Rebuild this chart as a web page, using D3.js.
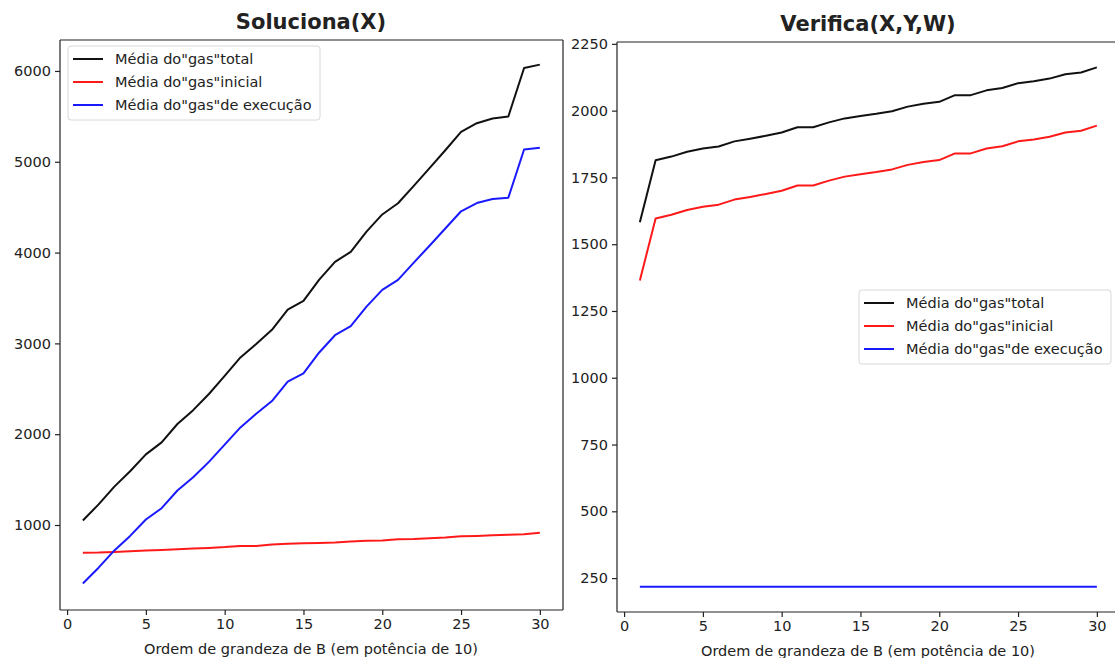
<!DOCTYPE html>
<html>
<head>
<meta charset="utf-8">
<script src="https://cdn.jsdelivr.net/npm/d3@7"></script>
<style>
  html, body { margin: 0; padding: 0; background: #fff; overflow: hidden; }
  svg { display: block; }
  text { font-family: "DejaVu Sans", sans-serif; fill: #222; }
</style>
</head>
<body>
<div id="chart"></div>
<script>
var svgWidth = 1115;
var svgHeight = 658;

// x values: order of magnitude of B
var ordem = [1, 2, 3, 4, 5, 6, 7, 8, 9, 10, 11, 12, 13, 14, 15,
             16, 17, 18, 19, 20, 21, 22, 23, 24, 25, 26, 27, 28, 29, 30];

var seriesNames = ['Média do"gas"total', 'Média do"gas"inicial', 'Média do"gas"de execução'];
var seriesColors = ["#111111", "#ff1a1a", "#1a1aff"];

// Soluciona(X)
var solTotal = [1050, 1227, 1423, 1592, 1778, 1910, 2112, 2265, 2443, 2642,
                2845, 2993, 3150, 3373, 3468, 3703, 3898, 4008, 4231, 4420,
                4543, 4735, 4930, 5127, 5330, 5425, 5477, 5498, 6032, 6070];
var solInicial = [695, 697, 703, 712, 718, 725, 732, 740, 748, 757,
                  770, 768, 785, 793, 798, 803, 808, 818, 826, 830,
                  843, 845, 855, 862, 875, 880, 887, 893, 897, 915];
var solExecucao = [355, 530, 720, 880, 1060, 1185, 1380, 1525, 1695, 1885,
                   2075, 2225, 2365, 2580, 2670, 2900, 3090, 3190, 3405, 3590,
                   3700, 3890, 4075, 4265, 4455, 4545, 4590, 4605, 5135, 5155];

// Verifica(X,Y,W)
var verTotal = [1582, 1814, 1828, 1846, 1858, 1866, 1885, 1895, 1906, 1918,
                1938, 1938, 1956, 1971, 1980, 1988, 1998, 2015, 2026, 2033,
                2058, 2058, 2076, 2085, 2103, 2110, 2120, 2136, 2143, 2162];
var verInicial = [1364, 1596, 1610, 1628, 1640, 1648, 1667, 1677, 1688, 1700,
                  1720, 1720, 1738, 1753, 1762, 1770, 1780, 1797, 1808, 1815,
                  1840, 1840, 1858, 1867, 1885, 1892, 1902, 1918, 1925, 1944];
var verExecucao = [218, 218, 218, 218, 218, 218, 218, 218, 218, 218,
                   218, 218, 218, 218, 218, 218, 218, 218, 218, 218,
                   218, 218, 218, 218, 218, 218, 218, 218, 218, 218];

var xTicks = [0, 5, 10, 15, 20, 25, 30];
var solYTicks = [1000, 2000, 3000, 4000, 5000, 6000];
var verYTicks = [250, 500, 750, 1000, 1250, 1500, 1750, 2000, 2250];

var xLabel = "Ordem de grandeza de B (em potência de 10)";

var svg = d3.select("#chart")
  .append("svg")
  .attr("width", svgWidth)
  .attr("height", svgHeight);

function drawPanel(p) {
  var w = p.right - p.left;
  var h = p.bottom - p.top;

  var g = svg.append("g")
    .attr("transform", `translate(${p.left}, ${p.top})`);

  // matplotlib style limits: 1..30 with 5% margins, about 15.76 px per unit
  var xLinearScale = d3.scaleLinear()
    .domain([-0.45, 31.45])
    .range([0, 502.7]);
  var yLinearScale = d3.scaleLinear()
    .domain(p.yDomain)
    .range([h, 0]);

  var bottomAxis = d3.axisBottom(xLinearScale)
    .tickValues(xTicks)
    .tickFormat(d3.format("d"))
    .tickSizeOuter(0)
    .tickSize(5)
    .tickPadding(4);
  var leftAxis = d3.axisLeft(yLinearScale)
    .tickValues(p.yTicks)
    .tickFormat(d3.format("d"))
    .tickSizeOuter(0)
    .tickSize(5)
    .tickPadding(4);

  var xAxis = g.append("g")
    .attr("transform", `translate(0, ${h})`)
    .call(bottomAxis);
  var yAxis = g.append("g")
    .call(leftAxis);

  [xAxis, yAxis].forEach(function(ax) {
    ax.select(".domain").remove();
    ax.selectAll("line").attr("stroke", "#222").attr("stroke-width", 1.2);
    ax.selectAll("text")
      .style("font-size", "14.5px")
      .attr("fill", "#222");
  });

  // lines
  var line = d3.line()
    .x(function(d, i) { return xLinearScale(ordem[i]); })
    .y(function(d) { return yLinearScale(d); });

  p.series.forEach(function(vals, i) {
    g.append("path")
      .datum(vals)
      .attr("fill", "none")
      .attr("stroke", seriesColors[i])
      .attr("stroke-width", 2)
      .attr("stroke-linejoin", "round")
      .attr("d", line);
  });

  // spines (right one of the second panel falls outside the picture)
  var spines = [[0, 0, w, 0], [0, h, w, h], [0, 0, 0, h]];
  if (p.rightSpine) spines.push([w, 0, w, h]);
  spines.forEach(function(s) {
    g.append("line")
      .attr("x1", s[0]).attr("y1", s[1])
      .attr("x2", s[2]).attr("y2", s[3])
      .attr("stroke", "#222")
      .attr("stroke-width", 1.2);
  });

  // title
  g.append("text")
    .attr("x", 251)
    .attr("y", -11)
    .attr("text-anchor", "middle")
    .style("font-size", "21px")
    .style("font-weight", "bold")
    .attr("fill", "#111")
    .text(p.title);

  // x label
  g.append("text")
    .attr("x", 251)
    .attr("y", h + 44)
    .attr("text-anchor", "middle")
    .style("font-size", "14.5px")
    .text(xLabel);

  // legend
  var legend = g.append("g")
    .attr("transform", `translate(${p.legendX}, ${p.legendY})`);
  legend.append("rect")
    .attr("width", 252)
    .attr("height", 74)
    .attr("rx", 3)
    .attr("fill", "#fff")
    .attr("fill-opacity", 0.8)
    .attr("stroke", "#d8d8d8");
  seriesNames.forEach(function(name, i) {
    var yy = 13 + i * 23;
    legend.append("line")
      .attr("x1", 5)
      .attr("x2", 35)
      .attr("y1", yy)
      .attr("y2", yy)
      .attr("stroke", seriesColors[i])
      .attr("stroke-width", 2);
    legend.append("text")
      .attr("x", 47)
      .attr("y", yy + 5)
      .style("font-size", "14.5px")
      .text(name);
  });
}

drawPanel({
  left: 60, right: 563, top: 40, bottom: 610,
  yDomain: [64, 6341],
  yTicks: solYTicks,
  title: "Soluciona(X)",
  series: [solTotal, solInicial, solExecucao],
  legendX: 8, legendY: 6,
  rightSpine: true
});

drawPanel({
  left: 617, right: 1160, top: 42, bottom: 612,
  yDomain: [123, 2257],
  yTicks: verYTicks,
  title: "Verifica(X,Y,W)",
  series: [verTotal, verInicial, verExecucao],
  legendX: 242, legendY: 248,
  rightSpine: false
});
</script>
</body>
</html>
